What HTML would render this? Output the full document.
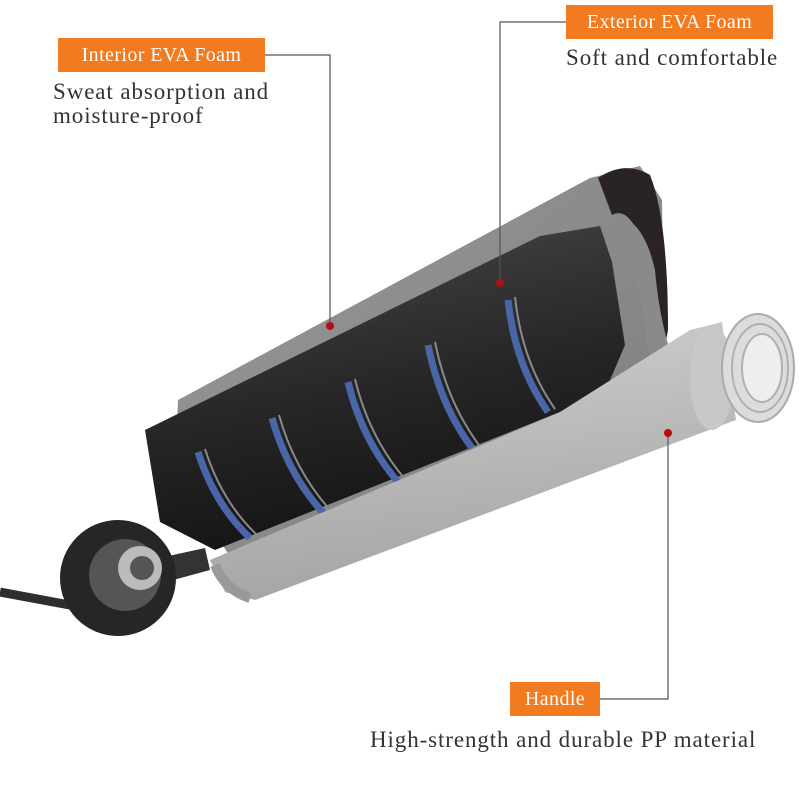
<!DOCTYPE html>
<html><head><meta charset="utf-8"><style>
html,body{margin:0;padding:0;background:#fff;}
.wrap{position:relative;width:800px;height:800px;overflow:hidden;font-family:"Liberation Serif",serif;}
.lab{position:absolute;background:#f27a1f;color:#fff;font-size:20px;letter-spacing:0.4px;line-height:34px;text-align:center;white-space:nowrap;}
.txt{position:absolute;color:#333;font-size:23px;letter-spacing:0.9px;line-height:24px;white-space:nowrap;}
svg{position:absolute;left:0;top:0;}
</style></head><body><div class="wrap">
<svg width="800" height="800" viewBox="0 0 800 800">
<defs>
<linearGradient id="gb" x1="0" y1="0" x2="1" y2="1"><stop offset="0" stop-color="#9a9a9a"/><stop offset="1" stop-color="#7c7c7c"/></linearGradient>
<linearGradient id="bf" x1="0" y1="0" x2="0.3" y2="1"><stop offset="0" stop-color="#4a4a4a"/><stop offset="0.6" stop-color="#262626"/><stop offset="1" stop-color="#141414"/></linearGradient>
<linearGradient id="hd" x1="0" y1="0" x2="0.2" y2="1"><stop offset="0" stop-color="#d0d0d0"/><stop offset="1" stop-color="#a5a5a5"/></linearGradient>
</defs>
<path d="M0,592 L75,606" stroke="#2e2e2e" stroke-width="9" fill="none"/>
<polygon points="178,400 590,178 640,166 662,200 664,360 640,385 232,560 175,470" fill="url(#gb)"/>
<path d="M598,178 Q625,160 650,175 Q668,220 668,330 Q660,375 645,382 Q660,320 645,250 Q630,205 612,215 Z" fill="#2a2323"/>
<path d="M610,240 Q640,270 645,330 Q650,370 665,385 L680,380 Q660,330 655,270 Q645,225 620,215 Z" fill="#8a8a8a"/>
<polygon points="145,430 540,236 600,226 612,262 625,345 605,392 560,412 215,550 160,522" fill="url(#bf)"/>
<g stroke="#4b66a8" stroke-width="7" fill="none">
<path d="M198,452 Q215,505 250,538"/>
<path d="M272,418 Q288,475 325,515"/>
<path d="M348,382 Q362,440 398,482"/>
<path d="M428,345 Q440,405 472,448"/>
<path d="M508,300 Q515,365 548,412"/>
</g>
<g stroke="#8a8a8a" stroke-width="2" fill="none">
<path d="M205,449 Q222,502 257,535"/>
<path d="M279,415 Q295,472 332,512"/>
<path d="M355,379 Q369,437 405,479"/>
<path d="M435,342 Q447,402 479,445"/>
<path d="M515,297 Q522,362 555,409"/>
</g>
<polygon points="210,560 560,412 690,330 722,322 736,420 255,600 225,592" fill="url(#hd)"/>
<path d="M215,565 Q225,590 250,598" stroke="#999" stroke-width="10" fill="none"/>
<ellipse cx="712" cy="378" rx="22" ry="52" fill="#c8c8c8"/>
<ellipse cx="758" cy="368" rx="36" ry="54" fill="#dcdcdc" stroke="#aaa" stroke-width="2"/>
<ellipse cx="760" cy="368" rx="28" ry="44" fill="none" stroke="#b0b0b0" stroke-width="2"/>
<ellipse cx="762" cy="368" rx="20" ry="34" fill="#eee" stroke="#b0b0b0" stroke-width="2"/>
<path d="M150,560 L205,548 L210,570 L155,585 Z" fill="#333"/>
<circle cx="118" cy="578" r="58" fill="#262626"/>
<circle cx="125" cy="575" r="36" fill="#555"/>
<circle cx="140" cy="568" r="22" fill="#bbb"/>
<circle cx="142" cy="568" r="12" fill="#555"/>
<g stroke="#555" stroke-width="1.2" fill="none">
<polyline points="265,55 330,55 330,325"/>
<polyline points="566,22 500,22 500,282"/>
<polyline points="600,699 668,699 668,432"/>
</g>
<g fill="#b10f12"><circle cx="330" cy="326" r="4"/><circle cx="500" cy="283" r="4"/><circle cx="668" cy="433" r="4"/></g>
</svg>
<div class="lab" style="left:58px;top:38px;width:207px;">Interior EVA Foam</div>
<div class="lab" style="left:566px;top:5px;width:207px;">Exterior EVA Foam</div>
<div class="lab" style="left:510px;top:682px;width:90px;">Handle</div>
<div class="txt" style="left:53px;top:80px;">Sweat absorption and</div>
<div class="txt" style="left:53px;top:104px;">moisture-proof</div>
<div class="txt" style="left:566px;top:46px;">Soft and comfortable</div>
<div class="txt" style="left:370px;top:728px;">High-strength and durable PP material</div>
</div></body></html>
